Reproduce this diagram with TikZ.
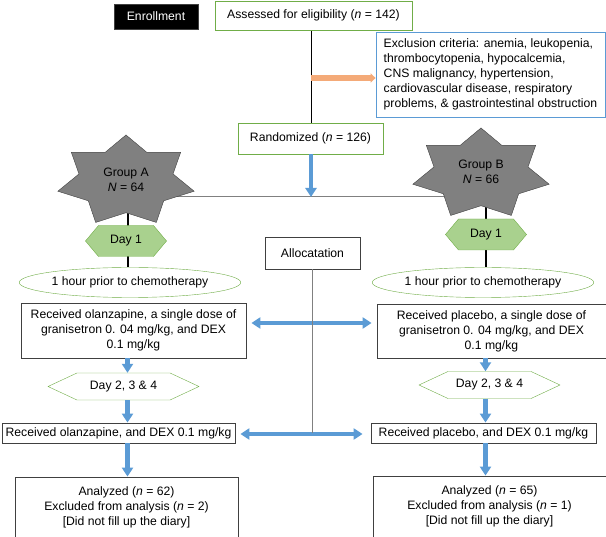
\documentclass[tikz,border=0pt]{standalone}
\usepackage{fontspec}
\setmainfont{Liberation Sans}
\definecolor{fcgreen}{RGB}{112,173,71}
\definecolor{fcgreenfill}{RGB}{169,209,142}
\definecolor{fcblue}{RGB}{91,155,213}
\definecolor{fcorange}{RGB}{244,170,120}
\definecolor{fcgray}{RGB}{128,128,128}
\definecolor{fcdark}{RGB}{64,64,64}
\usetikzlibrary{arrows.meta,positioning,shapes.geometric,shapes.symbols,backgrounds}

\begin{document}
\begin{tikzpicture}[x=1pt, y=-1pt,
    every node/.style={font=\fontsize{12.2}{15}\selectfont},
    gbox/.style={rectangle, draw=fcgreen, thick, fill=white, inner sep=0pt, align=center},
    kbox/.style={rectangle, draw=fcdark, thick, fill=white, inner sep=0pt, align=center},
    bbox/.style={rectangle, draw=fcblue, thick, fill=white, inner sep=0pt, align=left},
    starshape/.style={star, star points=7, star point ratio=1.45, minimum size=92pt,
      inner sep=0pt, xscale=1.52, fill=fcgray, draw=fcdark, thin},
    dayshape/.style={signal, signal to=west and east, signal pointer angle=100,
      minimum width=81pt, minimum height=31pt, inner sep=0pt, fill=fcgreenfill, draw=fcgreen},
    daysshape/.style={signal, signal to=west and east, signal pointer angle=50,
      minimum height=27pt, inner sep=0pt, fill=white, draw=fcgreen},
    oval/.style={ellipse, draw=fcgreen, fill=white, minimum height=30pt, inner sep=0pt},
    arr/.style={-{Triangle[length=9pt, width=11pt]}, line width=4.5pt, fcblue},
    darr/.style={{Triangle[length=9pt, width=11pt]}-{Triangle[length=9pt, width=11pt]}, line width=4.5pt, fcblue},
    oarr/.style={-{Triangle[length=5pt, width=9pt]}, line width=5.5pt, fcorange},
    stem/.style={line width=2pt, black},
    hline/.style={line width=1pt, fcgray}
  ]
  \useasboundingbox (0,0) rectangle (606,537);

  % enrollment
  \node[kbox, fill=black, text=white, minimum width=84pt, minimum height=25pt] (enrol) at (156,16.5) {Enrollment};
  \node[gbox, minimum width=197pt, minimum height=29pt] (elig) at (313.5,15.5) {Assessed for eligibility (\textit{n} = 142)};
  \node[bbox, minimum width=229pt, minimum height=85pt] (excl) at (490.5,74.5)
    {Exclusion criteria: anemia, leukopenia,\\thrombocytopenia, hypocalcemia,\\CNS malignancy, hypertension,\\cardiovascular disease, respiratory\\problems, \& gastrointestinal obstruction};
  \node[gbox, minimum width=145pt, minimum height=31pt] (rand) at (310.5,138.5) {Randomized (\textit{n} = 126)};

  \coordinate (split) at (311,78);
  \coordinate (junc) at (311,197);
  \coordinate (colA) at (127.5,0);
  \coordinate (colB) at (485.5,0);

  % groups
  \path (126,181) node[starshape] (starA) {};
  \path (481,174) node[starshape] (starB) {};
  \node[align=center] (grpA) at ([yshift=1pt]starA.center) {Group A\\\textit{N} = 64};
  \node[align=center] (grpB) at ([yshift=2pt]starB.center) {Group B\\\textit{N} = 66};

  \node[dayshape] (dayA) at (126,241) {Day 1};
  \node[dayshape] (dayB) at (486,234.5) {Day 1};
  \node[kbox, minimum width=95pt, minimum height=32pt] (alloc) at (312.5,253) {Allocatation};

  \node[oval, minimum width=208pt] (ellA) at (130,282.5) {1 hour prior to chemotherapy};
  \node[oval, minimum width=206pt] (ellB) at (483,282.5) {1 hour prior to chemotherapy};

  % allocation
  \node[kbox, minimum width=225pt, minimum height=55pt] (boxA) at (133.5,330.5)
    {Received olanzapine, a single dose of\\granisetron 0. 04 mg/kg, and DEX\\0.1 mg/kg};
  \node[kbox, minimum width=229pt, minimum height=54pt] (boxB) at (491.5,331)
    {Received placebo, a single dose of\\granisetron 0. 04 mg/kg, and DEX\\0.1 mg/kg};

  \node[daysshape, minimum width=151pt] (daysA) at (123.5,386.5) {Day 2, 3 \& 4};
  \node[daysshape, minimum width=141pt] (daysB) at (489.5,385) {Day 2, 3 \& 4};

  \node[kbox, minimum width=233pt, minimum height=20pt] (recvA) at (118.5,433) {Received olanzapine, and DEX 0.1 mg/kg};
  \node[kbox, minimum width=225pt, minimum height=20pt] (recvB) at (483.5,433) {Received placebo, and DEX 0.1 mg/kg};

  % follow-up
  \node[kbox, minimum width=223pt, minimum height=60pt] (anaA) at (126.5,507)
    {Analyzed (\textit{n} = 62)\\Excluded from analysis (\textit{n} = 2)\\{[Did not fill up the diary]}};
  \node[kbox, minimum width=233pt, minimum height=61pt] (anaB) at (489.5,506.5)
    {Analyzed (\textit{n} = 65)\\Excluded from analysis (\textit{n} = 1)\\{[Did not fill up the diary]}};

  \begin{scope}[on background layer]
    \draw[semithick] (elig.south -| junc) -- (rand.north -| junc);
    \draw[hline] (starA.center |- junc) -- (starB.center |- junc);
    \draw[stem] (starA.center -| colA) -- (ellA.north -| colA);
    \draw[stem] (starB.center -| colB) -- (ellB.north -| colB);
  \end{scope}

  \draw[oarr] (split) -- (split -| excl.west);
  \draw[arr] (rand.south -| junc) -- (junc);

  \draw[arr] (boxA.south -| colA) -- (daysA.north -| colA);
  \draw[arr] (daysA.south -| colA) -- (recvA.north -| colA);
  \draw[arr] (recvA.south -| colA) -- (anaA.north -| colA);
  \draw[arr] (boxB.south -| colB) -- (daysB.north -| colB);
  \draw[arr] (daysB.south -| colB) -- (recvB.north -| colB);
  \draw[arr] (recvB.south -| colB) -- (anaB.north -| colB);

  \draw[darr, shorten <=5pt, shorten >=5pt] ([yshift=7.5pt]boxA.east) -- ([yshift=7.5pt]boxA.east -| boxB.west);
  \draw[darr, shorten <=5pt, shorten >=8pt] ([yshift=-1pt]recvA.east) -- ([yshift=-1pt]recvA.east -| recvB.west);
  \draw[hline] (alloc.south) -- (alloc.south |- recvA.center);
\end{tikzpicture}
\end{document}
